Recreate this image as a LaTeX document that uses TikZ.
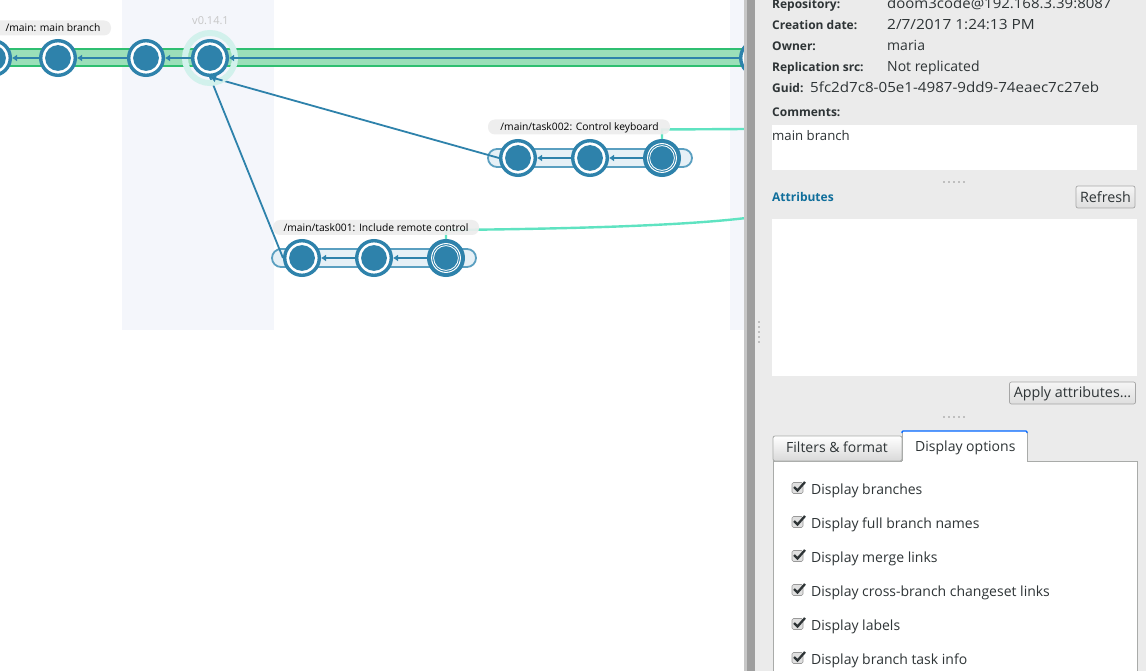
\documentclass[tikz,border=0pt]{standalone}
\usepackage{fontspec}
\setmainfont{Open Sans}
\usetikzlibrary{arrows.meta,calc}
\definecolor{cs}{HTML}{2E82AB}
\definecolor{band}{HTML}{F4F6FB}
\definecolor{gfill}{HTML}{9BDFB9}
\definecolor{gline}{HTML}{2FBF71}
\definecolor{halo}{HTML}{D2F1EC}
\definecolor{teal}{HTML}{5FE3C1}
\definecolor{tfill}{HTML}{E6F0F6}
\definecolor{tline}{HTML}{5A9FC0}
\definecolor{panel}{HTML}{EBEBEB}
\definecolor{txt}{HTML}{2E3436}
\definecolor{bd}{HTML}{A9ABA9}
\definecolor{lnk}{HTML}{0F6E9B}
\tikzset{
 x=1pt,y=-1pt,
 cset/.style={circle,draw=cs,line width=3.4pt,fill=white,minimum size=34.6pt,inner sep=0pt,
   path picture={\fill[cs] (path picture bounding box.center) circle (12.9pt);}},
 head/.style={circle,draw=cs,line width=3.4pt,fill=cs,minimum size=34.6pt,inner sep=0pt,
   path picture={\draw[white,line width=1pt] (path picture bounding box.center) circle (14.4pt);
     \draw[white,line width=.8pt] (path picture bounding box.center) circle (12.4pt);}},
 parentlink/.style={draw=cs,line width=2pt,-{Latex[length=5pt,width=7pt]}},
 merge/.style={draw=cs,line width=1.8pt},
 mergetip/.style={draw=cs,line width=1.8pt,-{Latex[length=6pt,width=8pt]}},
 pill/.style={fill=black!7,fill opacity=.92,rounded corners=7pt},
 tag/.style={text=black,font=\fontsize{10.3}{12}\selectfont,inner sep=0pt,anchor=center},
 ui/.style={text=txt,font=\fontsize{14}{16}\selectfont,inner sep=0pt,anchor=base west},
 uib/.style={text=txt,font=\fontsize{12}{15}\selectfont\bfseries,inner sep=0pt,anchor=base west},
 btn/.style={draw=black!35,rounded corners=2pt,top color=white!96!black,bottom color=black!13,text=txt,font=\fontsize{14.3}{16}\selectfont,inner sep=0pt,line width=.7pt},
 chk/.style={draw=black!40,rounded corners=1.5pt,fill=black!12,minimum size=11pt,inner sep=0pt,line width=.6pt},
 tick/.style={draw=txt,line width=2.3pt},
 grip/.style={fill=black!25},
}
\begin{document}
\begin{tikzpicture}
\useasboundingbox (0,0) rectangle (1146,671);
\clip (0,0) rectangle (1146,671);
\fill[white] (0,0) rectangle (746,671);
\fill[band] (122,0) rectangle (274,330);
\fill[band] (730,0) rectangle (746,330);
% main branch
\fill[gfill] (-20,48) rectangle (746,67);
\draw[gline,line width=2pt] (-20,49) -- (746,49);
\draw[gline,line width=2pt] (-20,66) -- (746,66);
% main nodes (placed first so that the links can refer to them)
\node[cset] (m0) at (-7,58) {};
\node[cset] (m1) at (58,58) {};
\node[cset] (m2) at (146,58) {};
\node[cset] (m3) at (210,58) {};
\node[cset] (m4) at (758,58) {};
% task bars
\draw[line width=1.8pt,draw=tline,fill=tfill,rounded corners=9pt] (488,149) rectangle (692,167);
\draw[line width=1.8pt,draw=tline,fill=tfill,rounded corners=9pt] (272,249) rectangle (476,267);
\node[cset] (a1) at (518,158) {};
\node[cset] (a2) at (590,158) {};
\node[head] (a3) at (662,158) {};
\node[cset] (b1) at (302,258) {};
\node[cset] (b2) at (374,258) {};
\node[head] (b3) at (446,258) {};
% merge links under the halo
\draw[merge] (a1.west) -- (m3.south);
\draw[merge] (b1.west) -- (m3.south);
% halo on top of the links
\node[circle,draw=halo,line width=6pt,minimum size=50pt,inner sep=0pt] (halo) at (210,58) {};
\draw[mergetip] ($(m3.south)!13pt!(a1.west)$) -- (m3.south);
% parent links
\draw[parentlink] (m1) -- (m0);
\draw[parentlink] (m2) -- (m1);
\draw[parentlink] (m3) -- (m2);
\draw[parentlink] (m4) -- (m3);
\draw[parentlink] (a2) -- (a1);
\draw[parentlink] (a3) -- (a2);
\draw[parentlink] (b2) -- (b1);
\draw[parentlink] (b3) -- (b2);
% labels
\fill[pill] (-20,20.5) rectangle (111,35.5);
\node[tag] (lmain) at (53,28) {/main: main branch};
\node[text=black!22,font=\fontsize{11}{12}\selectfont,inner sep=0pt] (lver) at (210.5,20.5) {v0.14.1};
\coordinate (t2end) at (746,129);
\draw[teal,line width=2.4pt] (a3.north) -- (662,129.5) -- (t2end);
\fill[pill] (488,119.5) rectangle (670,134.5);
\node[tag] (l2) at (579.5,127.5) {/main/task002: Control keyboard};
\coordinate (t1end) at (746,218);
\draw[teal,line width=2.4pt] (b3.north) -- (446,230) .. controls (560,229) and (680,226) .. (t1end);
\fill[pill] (273,220) rectangle (479,235);
\node[tag] (l1) at (376,228) {/main/task001: Include remote control};
% splitter & panel
\fill[panel] (744,0) rectangle (1146,671);
\fill[black!22] (744,0) rectangle (747,671);
\fill[black!38] (747,0) rectangle (755,671);
\foreach \y in {321,326,331,336,341} \fill[grip] (758,\y) rectangle (760,\y+2);
\foreach \x in {943,948,953,958,963} \fill[grip] (\x,181) rectangle (\x+2,183);
\foreach \x in {943,948,953,958,963} \fill[grip] (\x,416) rectangle (\x+2,418);
\node[uib] at (772,9) {Repository:};
\node[ui] at (887,9) {\scalebox{1.07}[1]{doom3code@192.168.3.39:8087}};
\node[uib] at (772,30) {Creation date:};
\node[ui] at (887,30) {\scalebox{1.10}[1]{2/7/2017 1:24:13 PM}};
\node[uib] at (772,51) {Owner:};
\node[ui] at (887,51) {maria};
\node[uib] at (772,72) {Replication src:};
\node[ui] at (887,72) {Not replicated};
\node[uib] at (772,93) {Guid:};
\node[ui] at (810,93) {\scalebox{1.082}[1]{5fc2d7c8-05e1-4987-9dd9-74eaec7c27eb}};
\node[uib] at (772,117) {Comments:};
\fill[white] (772,125) rectangle (1137,170);
\node[ui,font=\fontsize{13.2}{15}\selectfont] at (772,141) {main branch};
\node[uib,text=lnk] at (772,202) {Attributes};
\node[btn,minimum width=59pt,minimum height=22pt] (refresh) at (1105.5,197) {Refresh};
\fill[white] (772,219) rectangle (1137,376);
\node[btn,minimum width=126pt,minimum height=22pt] (apply) at (1072.5,393) {\raisebox{-4pt}[0pt][0pt]{Apply attributes...}};
% tabs
\fill[white] (773,461) rectangle (1137,671);
\draw[bd,line width=.8pt] (773,671) -- (773,461) -- (902,461);
\draw[bd,line width=.8pt] (1027,461) -- (1137,461) -- (1137,671);
\draw[bd,line width=.8pt,top color=white,bottom color=black!15,rounded corners=2pt] (773,461) -- (773,436) -- (902,436) -- (902,461) -- cycle;
\node[ui] at (786,452) {Filters \& format};
\fill[white] (902,431) rectangle (1027,462);
\draw[bd,line width=.8pt] (902,461) -- (902,432) (1027,432) -- (1027,461);
\draw[blue!60!cyan,line width=1.2pt,rounded corners=1pt] (902,433) -- (902,431) -- (1027,431) -- (1027,433);
\node[ui] at (915,451) {Display options};
\foreach \y/\t in {489/Display branches,523/Display full branch names,557/Display merge links,591/Display cross-branch changeset links,625/Display labels,659/Display branch task info}{
  \node[chk] at (797.5,\y-1) {};
  \draw[tick] (794,\y-2) -- (797.5,\y+1.5) -- (805,\y-7);
  \node[ui,anchor=base west] at (811,\y+5) {\t};
}
\end{tikzpicture}
\end{document}
